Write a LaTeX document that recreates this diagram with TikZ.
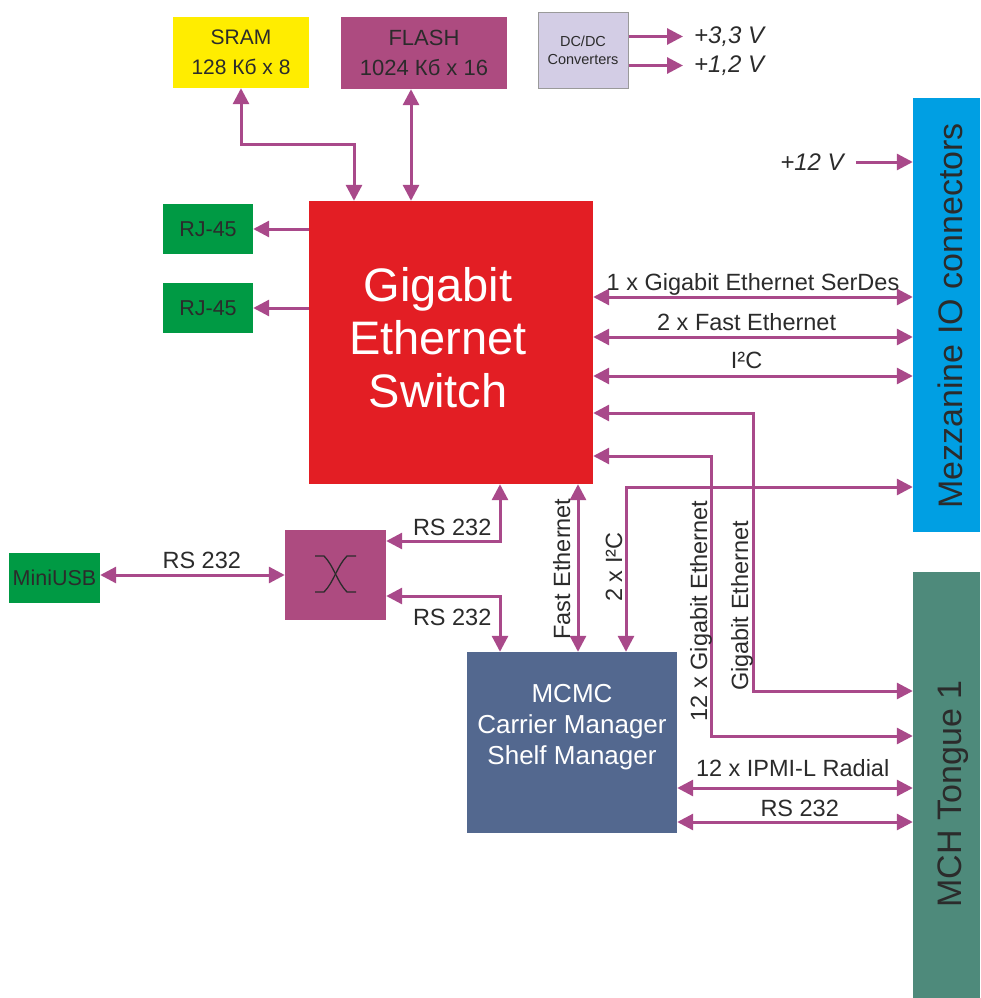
\documentclass[tikz,border=0pt]{standalone}
\usepackage{fontspec}
\setmainfont{Liberation Sans}
\usetikzlibrary{arrows.meta,calc}
\definecolor{txtc}{HTML}{2B2B2B}
\definecolor{linkc}{HTML}{A9498A}
\definecolor{swc}{HTML}{E31E24}
\definecolor{sramc}{HTML}{FFED00}
\definecolor{plumc}{HTML}{AD4B80}
\definecolor{dcdcc}{HTML}{D3CDE5}
\definecolor{dcdcb}{HTML}{9A9A9A}
\definecolor{grnc}{HTML}{009A44}
\definecolor{mezc}{HTML}{009FE3}
\definecolor{mchc}{HTML}{4E8A7B}
\definecolor{mcmcc}{HTML}{53688F}
\tikzset{%
box/.style={rectangle,inner sep=0pt,align=center,text=txtc},
link/.style={draw=linkc,line width=3pt,-{Triangle[length=16pt,width=16pt]}},
bilink/.style={draw=linkc,line width=3pt,{Triangle[length=16pt,width=16pt]}-{Triangle[length=16pt,width=16pt]}},
lbl/.style={text=txtc,font=\fontsize{23.5}{26}\selectfont,inner sep=1pt,text height=17pt,text depth=0pt},
vlbl/.style={lbl,rotate=90,anchor=base},
volt/.style={text=txtc,font=\fontsize{24}{26}\selectfont\itshape,inner sep=2pt},
bigtxt/.style={box,text=white,font=\fontsize{47}{53}\selectfont},
sidetxt/.style={text=txtc,font=\fontsize{34}{36}\selectfont,rotate=90,anchor=base,inner sep=0pt}
}
\begin{document}
\begin{tikzpicture}[x=1pt,y=-1pt]
  \useasboundingbox (0,0) rectangle (980,998);

  \node[box,fill=sramc,minimum width=136pt,minimum height=71pt,
    font=\fontsize{21}{30}\selectfont] (sram) at (241,52.5) {SRAM\\128 Кб x 8};
  \node[box,fill=plumc,minimum width=166pt,minimum height=72pt,
    font=\fontsize{22}{30}\selectfont] (flash) at (424,53) {FLASH\\1024 Кб x 16};
  \node[box,fill=dcdcc,draw=dcdcb,line width=1pt,minimum width=90pt,minimum height=75pt,
    font=\fontsize{14.5}{18}\selectfont] (dcdc) at (583,50.5) {DC/DC\\Converters};

  \node[box,fill=swc,minimum width=284pt,minimum height=283pt] (sw) at (451,342.5) {};
  \node[bigtxt] (swtxt) at (438,338) {Gigabit\\Ethernet\\Switch};

  \node[box,fill=grnc,minimum width=90pt,minimum height=50pt,
    font=\fontsize{21.5}{24}\selectfont] (rja) at (208,229) {RJ-45};
  \node[box,fill=grnc,minimum width=90pt,minimum height=50pt,
    font=\fontsize{21.5}{24}\selectfont] (rjb) at (208,308) {RJ-45};
  \node[box,fill=grnc,minimum width=91pt,minimum height=50pt,
    font=\fontsize{21.5}{24}\selectfont] (usb) at (54.5,578) {MiniUSB};
  \node[box,fill=plumc,minimum width=101pt,minimum height=90pt] (mux) at (335.5,575) {};

  \node[box,fill=mcmcc,minimum width=210pt,minimum height=181pt] (mcmc) at (572,742.5) {};
  \node[box,text=white,font=\fontsize{26}{31}\selectfont,anchor=north] (mcmctxt)
    at (572,684) {MCMC\\Carrier Manager\\Shelf Manager};

  \node[box,fill=mezc,minimum width=67pt,minimum height=434pt] (mezz) at (946.5,315) {};
  \node[sidetxt] (meztxt) at (962,316) {Mezzanine IO connectors};
  \node[box,fill=mchc,minimum width=67pt,minimum height=426pt] (mch) at (946.5,785) {};
  \node[sidetxt] (mchtxt) at (961,794) {MCH Tongue 1};

  \node[volt,anchor=west] (va) at (692,36.5) {+3,3 V};
  \node[volt,anchor=west] (vb) at (692,65.5) {+1,2 V};
  \node[volt] (vin) at (812,162) {+12 V};

  \coordinate (sramk) at (354,144);
  \coordinate (fl) at (411,0);
  \coordinate (gsd) at (0,297);
  \coordinate (fe2) at (0,337);
  \coordinate (iic) at (0,376);
  \coordinate (ge1) at (753,413);
  \coordinate (ge2) at (753,691);
  \coordinate (tg1) at (711,456);
  \coordinate (tg2) at (711,736);
  \coordinate (ic2) at (626,487);
  \coordinate (fe) at (578,0);
  \coordinate (rsa) at (500,541);
  \coordinate (rsb) at (500,596);
  \coordinate (ipm) at (0,788);
  \coordinate (rsc) at (0,822);

  \draw[bilink] (sram.south) |- (sramk) -- (sramk |- sw.north);
  \draw[bilink] (fl |- flash.south) -- (fl |- sw.north);
  \draw[link] (dcdc.east |- va) -- ([xshift=-9pt]va.west);
  \draw[link] (dcdc.east |- vb) -- ([xshift=-9pt]vb.west);
  \draw[link] ([xshift=10pt]vin.east) -- (mezz.west |- vin);
  \draw[link] (sw.west |- rja) -- (rja.east);
  \draw[link] (sw.west |- rjb) -- (rjb.east);

  \draw[bilink] (sw.east |- gsd) -- (mezz.west |- gsd)
    node[lbl,midway,above=4pt] {1 x Gigabit Ethernet SerDes};
  \draw[bilink] (sw.east |- fe2) -- (mezz.west |- fe2)
    node[lbl,pos=0.48,above=4pt] {2 x Fast Ethernet};
  \draw[bilink] (sw.east |- iic) -- (mezz.west |- iic)
    node[lbl,pos=0.48,above=5pt] {I²C};

  \draw[bilink] (sw.east |- ge1) -- (ge1) -- (ge2) -- (mch.west |- ge2);
  \draw[bilink] (sw.east |- tg1) -- (tg1) -- (tg2) -- (mch.west |- tg2);
  \draw[bilink] (mezz.west |- ic2) -- (ic2) -- (ic2 |- mcmc.north);
  \draw[bilink] (fe |- sw.south) -- (fe |- mcmc.north);
  \node[vlbl] (gelbl) at (748,606) {Gigabit Ethernet};
  \node[vlbl] (tglbl) at (707,611) {12 x Gigabit Ethernet};
  \node[vlbl] (iclbl) at (622,567) {2 x I²C};
  \node[vlbl] (felbl) at (570,569) {Fast Ethernet};

  \draw[bilink] (usb.east |- mux.west) -- (mux.west)
    node[lbl,pos=0.55,above=4pt] {RS 232};
  \draw[bilink] (mux.east |- rsa) -- node[lbl,pos=0.58,above=3pt] {RS 232} (rsa) -- (rsa |- sw.south);
  \draw[bilink] (mux.east |- rsb) -- node[lbl,pos=0.58,below=10pt] {RS 232} (rsb) -- (rsb |- mcmc.north);

  \draw[bilink] (mcmc.east |- ipm) -- (mch.west |- ipm)
    node[lbl,pos=0.49,above=9pt] {12 x IPMI-L Radial};
  \draw[bilink] (mcmc.east |- rsc) -- (mch.west |- rsc)
    node[lbl,pos=0.52,above=3pt] {RS 232};

  \draw[txtc,line width=1.3pt] (315,556) -- (324,556) .. controls (334,566) and (337,582) .. (347,592) -- (356,592);
  \draw[txtc,line width=1.3pt] (356,556) -- (347,556) .. controls (337,566) and (334,582) .. (324,592) -- (315,592);

\end{tikzpicture}
\end{document}
